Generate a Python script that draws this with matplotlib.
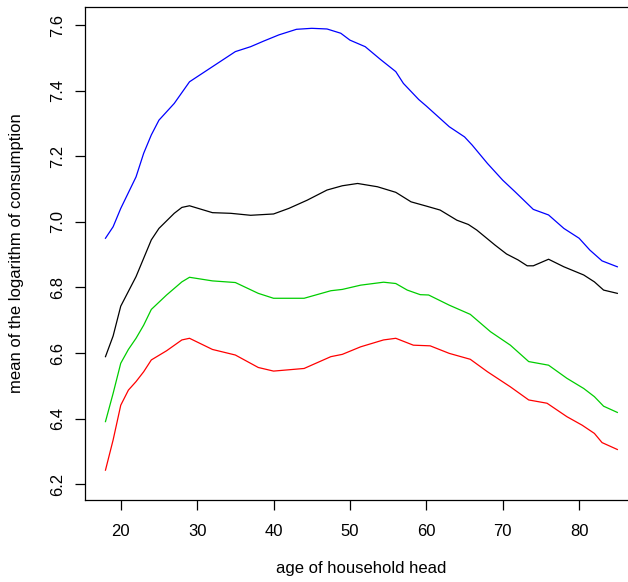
import matplotlib
matplotlib.use("Agg")
import matplotlib.pyplot as plt

plt.rcParams["font.family"] = ["Liberation Sans", "DejaVu Sans"]

# mean log consumption by age of household head, one curve per group
age_blue = [18, 19, 20, 22, 23, 24, 25, 27, 29, 32, 35, 37, 38.7, 40.7, 43, 45, 47,
            48.8, 50, 52, 54, 56, 57, 59, 60, 63, 65, 66, 68, 70, 71.6, 74, 76, 78,
            80, 81.4, 83, 85]
cons_blue = [6.950, 6.985, 7.041, 7.137, 7.209, 7.265, 7.310, 7.361, 7.427, 7.473,
             7.519, 7.534, 7.551, 7.570, 7.587, 7.590, 7.588, 7.575, 7.554, 7.534,
             7.495, 7.458, 7.422, 7.373, 7.353, 7.290, 7.259, 7.234, 7.178, 7.127,
             7.092, 7.038, 7.021, 6.980, 6.950, 6.914, 6.881, 6.863]

age_black = [18, 19, 20, 22, 23, 24, 25, 27, 28, 29, 32, 34.4, 37, 40, 42, 44.4, 47,
             49, 51, 53.6, 56, 58, 60, 61.8, 64, 65.5, 66.6, 69, 70.5, 72, 73.2, 74,
             76, 78, 80.6, 82, 83.2, 85]
cons_black = [6.589, 6.652, 6.743, 6.833, 6.889, 6.945, 6.980, 7.026, 7.044, 7.049,
              7.028, 7.026, 7.020, 7.024, 7.041, 7.066, 7.097, 7.110, 7.117, 7.107,
              7.090, 7.061, 7.048, 7.036, 7.005, 6.992, 6.975, 6.929, 6.902, 6.884,
              6.866, 6.866, 6.886, 6.863, 6.838, 6.817, 6.792, 6.782]

age_green = [18, 19, 20, 21, 22, 23, 24, 26, 28, 29, 32, 35, 38, 40, 44, 47.5, 49,
             51.4, 54.4, 56, 57.5, 59.2, 60.3, 63, 65.75, 68.4, 71, 73.4, 76, 78.4,
             80.6, 82, 83.2, 85]
cons_green = [6.391, 6.477, 6.569, 6.611, 6.645, 6.685, 6.733, 6.777, 6.817, 6.831,
              6.820, 6.815, 6.782, 6.767, 6.767, 6.790, 6.794, 6.807, 6.816, 6.812,
              6.792, 6.778, 6.777, 6.746, 6.718, 6.665, 6.624, 6.574, 6.563, 6.523,
              6.492, 6.467, 6.438, 6.419]

age_red = [18, 19, 20, 21, 22, 23, 24, 26, 28, 29, 32, 35, 38, 40, 44, 47.5, 49,
           51.4, 54.4, 56, 58.3, 60.5, 63, 65.75, 68, 71, 73.4, 75.8, 78.4, 80.4,
           82, 83, 85]
cons_red = [6.243, 6.335, 6.441, 6.487, 6.513, 6.543, 6.579, 6.607, 6.640, 6.645,
            6.611, 6.594, 6.556, 6.545, 6.553, 6.589, 6.596, 6.619, 6.640, 6.645,
            6.624, 6.622, 6.599, 6.581, 6.543, 6.497, 6.457, 6.447, 6.406, 6.380,
            6.355, 6.327, 6.306]

xticks = [20, 30, 40, 50, 60, 70, 80]
yticks = [6.2, 6.4, 6.6, 6.8, 7.0, 7.2, 7.4, 7.6]

fig = plt.figure(figsize=(6.28, 5.82), dpi=100)
# R-style plot region; the right edge runs slightly past the canvas
ax = fig.add_axes([85 / 628, 82 / 582, 552.8 / 628, 493 / 582])

ax.plot(age_blue, cons_blue, color="#0000FF", lw=0.9)
ax.plot(age_black, cons_black, color="black", lw=0.9)
ax.plot(age_green, cons_green, color="#00CD00", lw=0.9)
ax.plot(age_red, cons_red, color="#FF0000", lw=0.9)

ax.set_xlim(15.32, 87.68)
ax.set_ylim(6.152, 7.655)
ax.set_xticks(xticks)
ax.set_yticks(yticks)
ax.set_yticklabels([f"{v:.1f}" for v in yticks], rotation=90, va="center")

for sp in ax.spines.values():
    sp.set_linewidth(0.9)
ax.tick_params(direction="out", length=7, width=0.9, labelsize=12)
ax.tick_params(axis="x", pad=10)
ax.tick_params(axis="y", pad=7)

ax.set_xlabel("age of household head", fontsize=12)
ax.set_ylabel("mean of the logarithm of consumption", fontsize=12)
ax.xaxis.set_label_coords(0.5, -0.124)
ax.yaxis.set_label_coords(-0.110, 0.5)

fig.savefig("out.png", dpi=100)
